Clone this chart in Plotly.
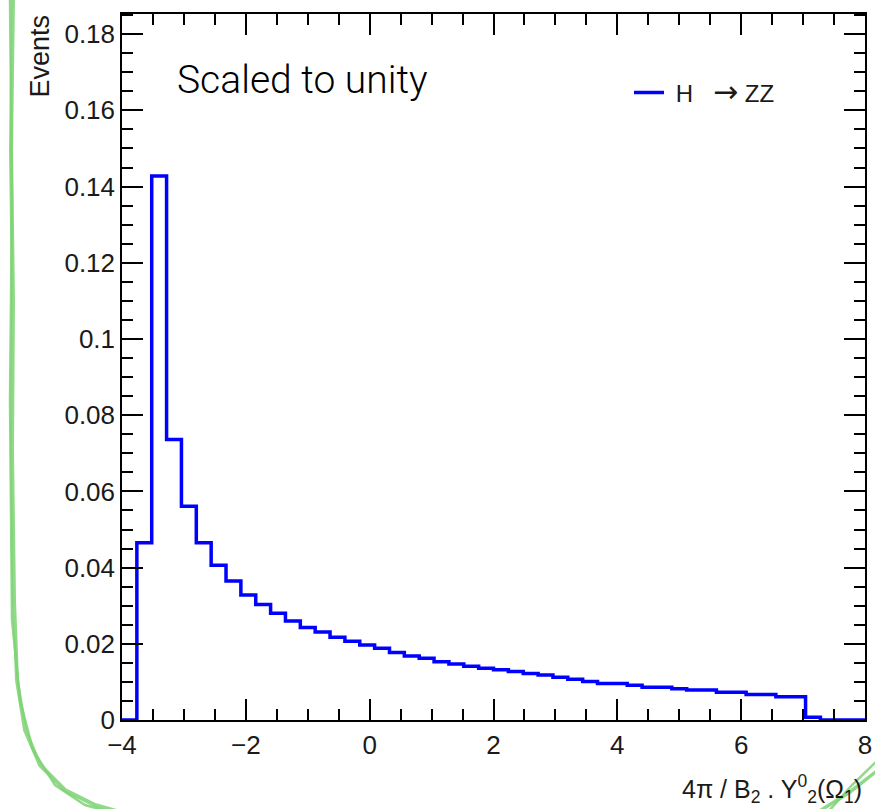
import plotly.graph_objects as go

# ---------------- data ----------------
x_min = -4.0
x_max = 8.0
n_bins = 50
events = [0.0, 0.0465, 0.1428, 0.0736, 0.0561, 0.0465, 0.0406, 0.0365, 0.0328, 0.0303,
          0.0280, 0.0260, 0.0243, 0.0231, 0.0217, 0.0207, 0.0197, 0.0188, 0.0177, 0.0168,
          0.0162, 0.0153, 0.0147, 0.0141, 0.0136, 0.0132, 0.0127, 0.0122, 0.0118, 0.0112,
          0.0107, 0.0101, 0.0096, 0.0096, 0.0091, 0.0086, 0.0086, 0.0082, 0.0079, 0.0079,
          0.0073, 0.0073, 0.0067, 0.0067, 0.0061, 0.0061, 0.0007, 0.0, 0.0, 0.0]
series_name = ("\u00a0H\u00a0\u00a0\u00a0"
               "<span style=\"font-family:DejaVu Sans;font-size:30px\">\u2192</span> ZZ")
y_title = "Events"
x_title = "4\u03c0 / B<sub>2</sub> . Y<sup>0</sup><sub>2</sub>(\u03a9<sub>1</sub>)"
note = "Scaled to unity"
y_max = 0.1853

# ---------------- figure ----------------
bin_w = (x_max - x_min) / n_bins
edges = [x_min + i * bin_w for i in range(n_bins + 1)]
ys = events + [events[-1]]

W, H = 875, 809
ML, MR, MT, MB = 122, 10, 14, 89
PW, PH = W - ML - MR, H - MT - MB


def px(x, y):
    return (x - ML) / PW, (H - MB - y) / PH


fig = go.Figure()
fig.add_trace(go.Scatter(x=edges, y=ys, mode="lines", line_shape="hv",
                         line=dict(color="#0000ff", width=3.5),
                         name=series_name, showlegend=True))

FONT = "Liberation Sans, Arial, sans-serif"
axis_common = dict(showline=True, linecolor="black", linewidth=1.5, mirror="ticks",
                   ticks="inside", ticklen=21, tickwidth=1.5, tickcolor="black",
                   showgrid=False, zeroline=False, automargin=False,
                   tickfont=dict(family=FONT, size=26, color="#1a1a1a"))

fig.update_layout(
    width=W, height=H, autosize=False,
    margin=dict(l=ML, r=MR, t=MT, b=MB, pad=0, autoexpand=False),
    paper_bgcolor="white", plot_bgcolor="white",
    xaxis=dict(range=[x_min, x_max], tick0=-4, dtick=2, ticklabelstandoff=1,
               minor=dict(dtick=0.5, ticks="inside", ticklen=11, tickwidth=1.5, tickcolor="black"),
               **axis_common),
    yaxis=dict(range=[0, y_max], tick0=0, dtick=0.02,
               minor=dict(dtick=0.005, ticks="inside", ticklen=11, tickwidth=1.5, tickcolor="black"),
               **axis_common),
    legend=dict(x=px(629, 0)[0], y=px(0, 93)[1], xanchor="left", yanchor="middle",
                bgcolor="rgba(0,0,0,0)", font=dict(family=FONT, size=24, color="#1a1a1a")),
    font=dict(family=FONT, color="#1a1a1a"),
)

ex, ey = px(40, 13)
fig.add_annotation(text=y_title, x=ex, y=ey, xref="paper", yref="paper", textangle=-90,
                   xanchor="center", yanchor="top", showarrow=False,
                   font=dict(family=FONT, size=27, color="#1a1a1a"))
nx, ny = px(175, 80)
fig.add_annotation(text=note, x=nx, y=ny, xref="paper", yref="paper",
                   xanchor="left", yanchor="middle", showarrow=False,
                   font=dict(family="Roboto, Liberation Sans, sans-serif", size=39,
                             color="black", weight=300))
tx, ty = px(864, 789)
fig.add_annotation(text=x_title, x=tx, y=ty, xref="paper", yref="paper",
                   xanchor="right", yanchor="middle", showarrow=False,
                   font=dict(family=FONT, size=25, color="#1a1a1a"))


# hand-drawn green border decoration
def path(points):
    s = ""
    for i, (x, y) in enumerate(points):
        X, Y = px(x, y)
        s += ("M" if i == 0 else "L") + f"{X:.5f},{Y:.5f} "
    return s


green = "rgba(125,210,115,0.85)"
left1 = [(13, -2), (11, 150), (13, 300), (12, 450), (14, 600), (17, 680), (25, 730), (40, 765),
         (65, 790), (95, 805), (120, 812)]
left2 = [(10, -2), (12, 200), (10, 400), (12, 620), (20, 700), (33, 750), (55, 785), (85, 805), (110, 812)]
br1 = [(878, 770), (850, 792), (818, 812)]
br2 = [(878, 760), (852, 785), (828, 812)]
for pts, w in [(left1, 4), (left2, 2.5), (br1, 3.5), (br2, 2.5)]:
    fig.add_shape(type="path", path=path(pts), xref="paper", yref="paper",
                  line=dict(color=green, width=w), layer="above")

fig.write_html("out.html", config={"displayModeBar": False},
               post_script="document.body.style.margin='0px';"
                           "document.documentElement.style.overflow='hidden';")
